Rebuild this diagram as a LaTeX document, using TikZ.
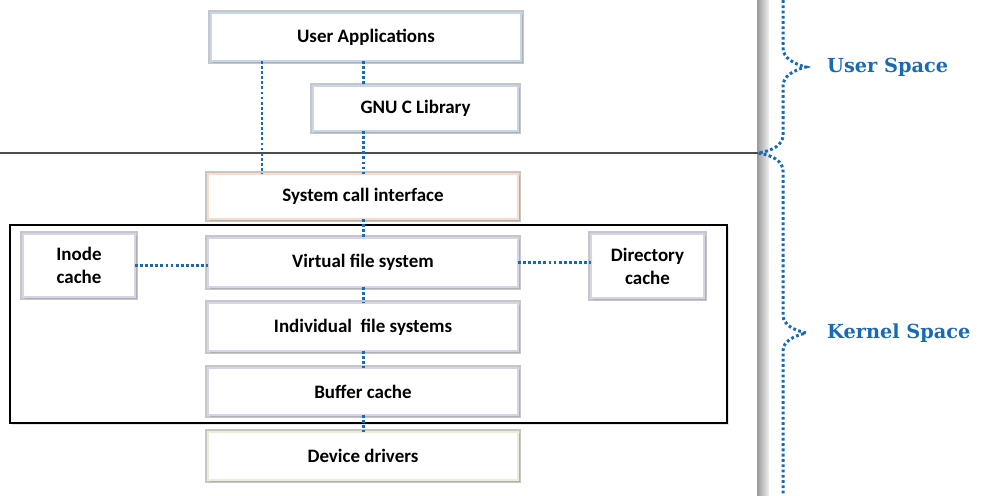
\documentclass[tikz,border=0pt]{standalone}
\usepackage{fontspec}
\setmainfont{Carlito}
\newfontfamily\slabfont{DejaVu Serif}
\usetikzlibrary{shadows}
\definecolor{dotblue}{HTML}{1A6AB2}
\definecolor{edgeblue}{HTML}{C6D6EC}
\definecolor{edgepeach}{HTML}{F8DDCB}
\definecolor{edgegrey}{HTML}{D6D4E6}
\definecolor{edgecream}{HTML}{ECEDD9}

\begin{document}
\begin{tikzpicture}[x=0.02cm,y=-0.02cm,
    layer/.style={draw=#1, line width=1.2pt, fill=white, inner sep=0pt, outer sep=0pt,
        font=\bfseries\fontsize{10.8}{13}\selectfont, align=center,
        preaction={draw=gray!45, line width=3.4pt},
        drop shadow={opacity=0.3, shadow xshift=1pt, shadow yshift=-1pt}},
    wide/.style={minimum width=6.2cm, minimum height=0.96cm},
    conn/.style={dotblue, line width=1.7pt, dash pattern=on 1.6pt off 1.3pt},
    brace/.style={dotblue, line width=1.7pt, dash pattern=on 1.6pt off 1.4pt},
    spacelabel/.style={anchor=west, dotblue, font=\slabfont\bfseries\fontsize{11}{13}\selectfont}]
    \useasboundingbox (0,0) rectangle (982,495);

    % separator and side bar
    \shade[left color=gray!80, right color=gray!10] (757,0) rectangle (769,495);
    \coordinate (bar) at (758,153);
    \draw[gray!60!black, line width=0.8pt] (0,153) -- (bar);

    % file system frame
    \draw[line width=0.7pt, fill=white, drop shadow={opacity=0.2, shadow xshift=1pt, shadow yshift=-1pt}] (10,225) rectangle (727,423);

    % boxes
    \node[layer=edgeblue, wide] (apps) at (366,37) {User Applications};
    \node[layer=edgeblue, minimum width=4.1cm, minimum height=0.9cm] (glibc) at (415.5,108.5) {GNU C Library};
    \node[layer=edgepeach, wide, minimum height=0.9cm] (sci) at (363,196.5) {System call interface};
    \node[layer=edgegrey, wide, minimum height=0.98cm] (vfs) at (363,262.5) {Virtual file system};
    \node[layer=edgegrey, wide] (ifs) at (363,327) {Individual~ file systems};
    \node[layer=edgegrey, wide, minimum height=0.94cm] (bufc) at (363,391.5) {Buffer cache};
    \node[layer=edgecream, wide] (drv) at (363,456) {Device drivers};
    \node[layer=edgegrey, minimum width=2.24cm, minimum height=1.26cm] (inode) at (79,265.5) {Inode\\cache};
    \node[layer=edgegrey, minimum width=2.26cm, minimum height=1.28cm] (dircache) at (647.5,266) {Directory\\cache};

    % connectors
    \coordinate (lft) at (262,0);
    \coordinate (mid) at (363,0);
    \draw[conn] (apps.south -| lft) -- (sci.north -| lft);
    \draw[conn] (apps.south -| mid) -- (glibc.north -| mid);
    \draw[conn] (glibc.south -| mid) -- (sci.north);
    \draw[conn] (sci.south) -- (vfs.north);
    \draw[conn] (vfs.south) -- (ifs.north);
    \draw[conn] (ifs.south) -- (bufc.north);
    \draw[conn] (bufc.south) -- (drv.north);
    \draw[conn] (inode.east) -- (inode.east -| vfs.west);
    \draw[conn] (vfs.east) -- (vfs.east -| dircache.west);

    % braces
    \coordinate (utip) at (806,67);
    \coordinate (ktip) at (806,333);
    \draw[brace] (783,0) -- (783,48) .. controls (783,58) and (794,64) .. (utip)
        .. controls (794,70) and (783,76) .. (783,86) -- (783,135)
        .. controls (783,145) and (772,151) .. (bar)
        .. controls (772,155) and (783,161) .. (783,171) -- (783,315)
        .. controls (783,325) and (794,330) .. (ktip)
        .. controls (794,336) and (783,341) .. (783,351) -- (783,495);
    \node[spacelabel] (user) at ([xshift=0.3cm]utip) {User Space};
    \node[spacelabel] (kernel) at ([xshift=0.3cm]ktip) {Kernel Space};
\end{tikzpicture}
\end{document}
